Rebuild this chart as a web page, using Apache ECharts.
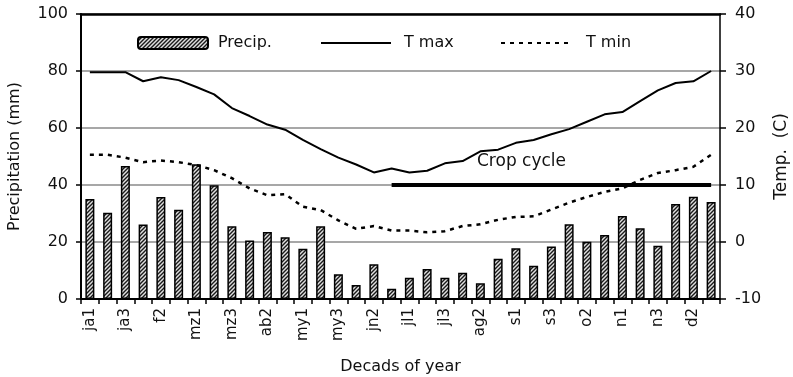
<!DOCTYPE html>
<html><head><meta charset="utf-8">
<script src="https://cdn.jsdelivr.net/npm/echarts@6/dist/echarts.min.js"></script>
<style>html,body{margin:0;padding:0;background:#fff}#c{width:793px;height:377px}</style>
</head><body><div id="c"></div>
<script>
// ---- data ----
const decades = ['ja1','ja2','ja3','f1','f2','f3','mz1','mz2','mz3','ab1','ab2','ab3','my1','my2','my3','jn1','jn2','jn3','jl1','jl2','jl3','ag1','ag2','ag3','s1','s2','s3','o1','o2','o3','n1','n2','n3','d1','d2','d3'];
const precip = [35.1, 30.3, 46.7, 26.1, 35.8, 31.3, 47.3, 39.9, 25.5, 20.5, 23.5, 21.7, 17.6, 25.5, 8.7, 4.9, 12.2, 3.6, 7.5, 10.5, 7.5, 9.2, 5.5, 14.1, 17.8, 11.7, 18.4, 26.2, 20.1, 22.5, 29.1, 24.8, 18.7, 33.3, 35.9, 34.0];
const tMax = [29.8, 29.8, 29.8, 28.2, 28.9, 28.4, 27.2, 25.9, 23.5, 22.1, 20.6, 19.7, 17.9, 16.3, 14.8, 13.6, 12.2, 12.9, 12.2, 12.5, 13.8, 14.2, 15.9, 16.2, 17.4, 17.9, 18.9, 19.8, 21.1, 22.4, 22.8, 24.7, 26.6, 27.9, 28.2, 30.0];
const tMin = [15.3, 15.3, 14.8, 14.0, 14.3, 14.0, 13.5, 12.6, 11.2, 9.4, 8.2, 8.4, 6.2, 5.6, 3.8, 2.3, 2.8, 2.0, 2.0, 1.7, 1.9, 2.8, 3.1, 3.9, 4.4, 4.5, 5.7, 6.9, 7.9, 8.8, 9.4, 10.9, 12.1, 12.6, 13.2, 15.3];
const cropCycleFrom = 'jn3';
const cropCycleTo = 'd3';
const cropCycleLevel = 40;
const cropCycleLabel = 'Crop cycle';
const seriesNames = ['Precip.', 'T max', 'T min'];
const precipAxisName = 'Precipitation (mm)';
const tempAxisName = 'Temp.  (C)';
const xAxisName = 'Decads of year';

// ---- styling helpers ----
const FONT = 'DejaVu Sans';
function hatch() {
  const c = document.createElement('canvas');
  c.width = 4; c.height = 4;
  const g = c.getContext('2d');
  g.fillStyle = '#e0e0e0'; g.fillRect(0, 0, 4, 4);
  g.strokeStyle = '#1a1a1a'; g.lineWidth = 1.4;
  g.beginPath();
  g.moveTo(-1, 5); g.lineTo(5, -1);
  g.moveTo(-1, 1); g.lineTo(1, -1);
  g.moveTo(3, 5); g.lineTo(5, 3);
  g.stroke();
  return c;
}
const fromIdx = decades.indexOf(cropCycleFrom), toIdx = decades.indexOf(cropCycleTo);
const cropData = decades.map((d, i) => (i >= fromIdx && i <= toIdx) ? cropCycleLevel : null);

const chart = echarts.init(document.getElementById('c'), null, {renderer: 'canvas'});
const txt = {fontFamily: FONT, color: '#111'};
chart.setOption({
  animation: false,
  backgroundColor: '#fff',
  grid: {left: 81, right: 73, top: 14, bottom: 78, containLabel: false, outerBoundsMode: 'none'},
  legend: [
    {data: [seriesNames[0]], left: 137, top: 35, padding: 0, itemWidth: 70, itemHeight: 12,
     textStyle: Object.assign({fontSize: 16, padding: [0, 0, 0, 5]}, txt)},
    {data: [seriesNames[1]], left: 320, top: 35, padding: 0, itemWidth: 70, itemHeight: 12,
     itemStyle: {opacity: 0},
     textStyle: Object.assign({fontSize: 16, padding: [0, 0, 0, 8]}, txt)},
    {data: [seriesNames[2]], left: 500, top: 35, padding: 0, itemWidth: 71, itemHeight: 12,
     itemStyle: {opacity: 0},
     textStyle: Object.assign({fontSize: 16, padding: [0, 0, 0, 9]}, txt)}
  ],
  xAxis: [{
    type: 'category', data: decades, boundaryGap: true,
    name: xAxisName, nameLocation: 'middle', nameGap: 60,
    nameTextStyle: Object.assign({fontSize: 16}, txt),
    axisLine: {onZero: false, lineStyle: {color: '#000', width: 2}},
    axisTick: {show: true, interval: 0, length: 5, lineStyle: {color: '#000', width: 1.5}},
    axisLabel: Object.assign({interval: 1, rotate: 90, fontSize: 15, margin: 9}, txt),
    splitLine: {show: false}
  }, {
    type: 'category', data: decades, position: 'top',
    axisLine: {onZero: false, lineStyle: {color: '#000', width: 2.5}},
    axisTick: {show: false}, axisLabel: {show: false}, splitLine: {show: false}
  }],
  yAxis: [{
    type: 'value', min: 0, max: 100, interval: 20, position: 'left',
    name: precipAxisName, nameLocation: 'middle', nameGap: 58, nameRotate: 90,
    nameTextStyle: Object.assign({fontSize: 16}, txt),
    axisLine: {show: true, lineStyle: {color: '#000', width: 2}},
    axisTick: {show: true, length: 5, lineStyle: {color: '#000', width: 1.5}},
    axisLabel: Object.assign({fontSize: 16, margin: 13}, txt),
    splitLine: {show: true, lineStyle: {color: '#8a8a8a', width: 1.5}}
  }, {
    type: 'value', min: -10, max: 40, interval: 10, position: 'right',
    name: tempAxisName, nameLocation: 'middle', nameGap: 53, nameRotate: 90,
    nameTextStyle: Object.assign({fontSize: 17}, txt),
    axisLine: {show: true, lineStyle: {color: '#000', width: 1.5}},
    axisTick: {show: true, length: 6, lineStyle: {color: '#000', width: 1.5}},
    axisLabel: Object.assign({fontSize: 16, margin: 15}, txt),
    splitLine: {show: false}
  }],
  graphic: [{
    type: 'text', left: 477, top: 153, z: 50,
    style: {text: cropCycleLabel, font: '17px "DejaVu Sans"', fill: '#111'}
  }],
  series: [{
    name: seriesNames[0], type: 'bar', data: precip, yAxisIndex: 0, barWidth: 9, z: 2,
    itemStyle: {color: {image: hatch(), repeat: 'repeat'}, borderColor: '#000', borderWidth: 1.5}
  }, {
    name: 'crop', type: 'line', data: cropData, yAxisIndex: 0, symbol: 'none', z: 4,
    lineStyle: {color: '#000', width: 4}, connectNulls: false
  }, {
    name: seriesNames[1], type: 'line', data: tMax, yAxisIndex: 1, symbol: 'none', z: 5,
    lineStyle: {color: '#000', width: 2}, itemStyle: {color: '#000'}
  }, {
    name: seriesNames[2], type: 'line', data: tMin, yAxisIndex: 1, symbol: 'none', z: 5,
    lineStyle: {color: '#000', width: 2.5, type: [4, 5]}, itemStyle: {color: '#000'}
  }]
});
</script>
</body></html>
